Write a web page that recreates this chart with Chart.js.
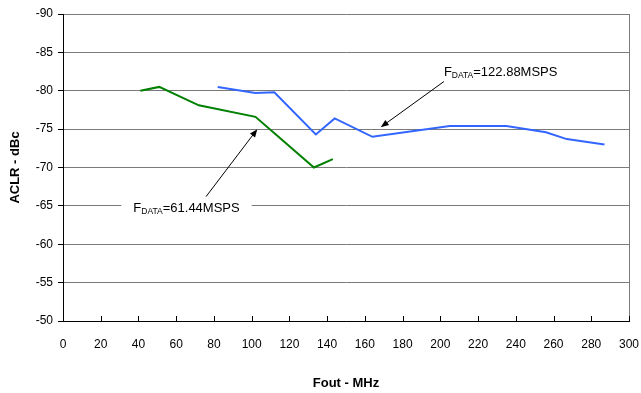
<!DOCTYPE html>
<html>
<head>
<meta charset="utf-8">
<script src="https://cdn.jsdelivr.net/npm/chart.js@4/dist/chart.umd.min.js"></script>
<style>
  html, body { margin: 0; padding: 0; background: #fff; }
  canvas { display: block; }
</style>
</head>
<body>
<canvas id="aclr_chart" width="641" height="393"></canvas>
<script>
//  ACLR vs output frequency, two data rates
var fout_61 = [41, 51, 72, 102, 111, 133, 143];
var aclr_61 = [-80.0, -80.5, -78.1, -76.6, -74.7, -70.0, -71.1];

var fout_122 = [82, 102, 112, 134, 144, 164, 205, 235, 256, 267, 287];
var aclr_122 = [-80.5, -79.7, -79.8, -74.3, -76.4, -74.0, -75.4, -75.4, -74.6, -73.7, -73.0];

var x_ticks = [0, 20, 40, 60, 80, 100, 120, 140, 160, 180, 200, 220, 240, 260, 280, 300];
var y_ticks = [-90, -85, -80, -75, -70, -65, -60, -55, -50];

function toPoints(xs, ys) {
  return xs.map(function (x, i) { return {x: x, y: ys[i]}; });
}

var FONT = "'Liberation Sans', Arial, sans-serif";

//  labels with arrows, placed in axis units
var notes = [
  {main: "F", sub: "DATA", rest: "=122.88MSPS", at: [201.9, -82.35], tail: [201.9, -81.2], tip: [168.4, -75.25], box: false},
  {main: "F", sub: "DATA", rest: "=61.44MSPS", at: [37.3, -64.7], tail: [75.8, -66.2], tip: [103.0, -75.0], box: true}
];

//  grey right edge + inward ticks on the x axis
var framePlugin = {
  id: "frame",
  beforeDatasetsDraw: function (chart) {
    var a = chart.chartArea, c = chart.ctx;
    c.save();
    c.strokeStyle = "#7a7a7a";
    c.lineWidth = 1;
    c.beginPath();
    c.moveTo(Math.round(a.right) + 0.5, a.top);
    c.lineTo(Math.round(a.right) + 0.5, a.bottom);
    c.stroke();
    c.restore();
  },
  afterDraw: function (chart) {
    var xs = chart.scales.x, a = chart.chartArea, c = chart.ctx;
    c.save();
    c.strokeStyle = "#000";
    c.lineWidth = 1;
    c.beginPath();
    x_ticks.forEach(function (v) {
      var px = Math.round(xs.getPixelForValue(v)) + 0.5;
      c.moveTo(px, a.bottom);
      c.lineTo(px, a.bottom - 5);
    });
    c.stroke();
    c.restore();
  }
};

function drawArrow(c, x0, y0, x1, y1) {
  var ang = Math.atan2(y1 - y0, x1 - x0), len = 8, w = 3.2;
  c.beginPath();
  c.moveTo(x0, y0);
  c.lineTo(x1 - Math.cos(ang) * len * 0.8, y1 - Math.sin(ang) * len * 0.8);
  c.stroke();
  c.beginPath();
  c.moveTo(x1, y1);
  c.lineTo(x1 - Math.cos(ang) * len - Math.sin(ang) * w, y1 - Math.sin(ang) * len + Math.cos(ang) * w);
  c.lineTo(x1 - Math.cos(ang) * len + Math.sin(ang) * w, y1 - Math.sin(ang) * len - Math.cos(ang) * w);
  c.closePath();
  c.fill();
}

var notesPlugin = {
  id: "notes",
  afterDraw: function (chart) {
    var xs = chart.scales.x, ys = chart.scales.y, c = chart.ctx;
    c.save();
    notes.forEach(function (n) {
      var tx = xs.getPixelForValue(n.at[0]), ty = ys.getPixelForValue(n.at[1]);
      c.textBaseline = "middle";
      c.textAlign = "left";
      c.font = "13px " + FONT;
      var w1 = c.measureText(n.main).width, w3 = c.measureText(n.rest).width;
      c.font = "8.5px " + FONT;
      var w2 = c.measureText(n.sub).width;
      if (n.box) {
        c.fillStyle = "#fff";
        c.fillRect(tx - 12, ty - 9, w1 + w2 + w3 + 24, 17);
      }
      c.fillStyle = "#000";
      c.font = "13px " + FONT;
      c.fillText(n.main, tx, ty);
      c.font = "8.5px " + FONT;
      c.fillText(n.sub, tx + w1, ty + 3);
      c.font = "13px " + FONT;
      c.fillText(n.rest, tx + w1 + w2, ty);
      c.strokeStyle = "#000";
      c.lineWidth = 1;
      drawArrow(c, xs.getPixelForValue(n.tail[0]), ys.getPixelForValue(n.tail[1]),
                xs.getPixelForValue(n.tip[0]), ys.getPixelForValue(n.tip[1]));
    });
    c.restore();
  }
};

var ctx = document.getElementById("aclr_chart");
var aclr_chart = new Chart(ctx, {
  type: "line",
  data: {
    datasets: [
      {
        label: "FDATA=61.44MSPS",
        data: toPoints(fout_61, aclr_61),
        borderColor: "#008000",
        borderWidth: 2,
        pointRadius: 0,
        fill: false
      },
      {
        label: "FDATA=122.88MSPS",
        data: toPoints(fout_122, aclr_122),
        borderColor: "#3366ff",
        borderWidth: 2,
        pointRadius: 0,
        fill: false
      }
    ]
  },
  plugins: [framePlugin, notesPlugin],
  options: {
    animation: false,
    responsive: false,
    maintainAspectRatio: false,
    layout: { padding: { top: 14, right: 12, left: 0, bottom: 0 } },
    plugins: { legend: { display: false }, tooltip: { enabled: false } },
    scales: {
      x: {
        type: "linear",
        min: 0,
        max: 300,
        afterFit: function (s) { s.height = 72; s.paddingLeft = 0; s.paddingRight = 0; },
        afterBuildTicks: function (s) { s.ticks = x_ticks.map(function (v) { return {value: v}; }); },
        grid: { drawOnChartArea: false, drawTicks: false },
        border: { color: "#000", width: 1 },
        ticks: { color: "#000", padding: 16, maxRotation: 0, font: { family: FONT, size: 12 } },
        title: {
          display: true,
          text: "Fout - MHz",
          color: "#000",
          font: { family: FONT, size: 13, weight: "bold" },
          padding: { top: 0, bottom: 2 }
        }
      },
      y: {
        type: "linear",
        reverse: true,
        min: -90,
        max: -50,
        afterFit: function (s) { s.width = 63; s.paddingTop = 0; s.paddingBottom = 0; },
        afterBuildTicks: function (s) { s.ticks = y_ticks.map(function (v) { return {value: v}; }); },
        grid: { color: "#7a7a7a", lineWidth: 1, tickColor: "#000", tickLength: 5 },
        border: { color: "#000", width: 1 },
        ticks: { color: "#000", padding: 5, font: { family: FONT, size: 12 } },
        title: {
          display: true,
          text: "ACLR - dBc",
          color: "#000",
          font: { family: FONT, size: 13, weight: "bold" },
          padding: { top: 8, bottom: 0 }
        }
      }
    }
  }
});
</script>
</body>
</html>
